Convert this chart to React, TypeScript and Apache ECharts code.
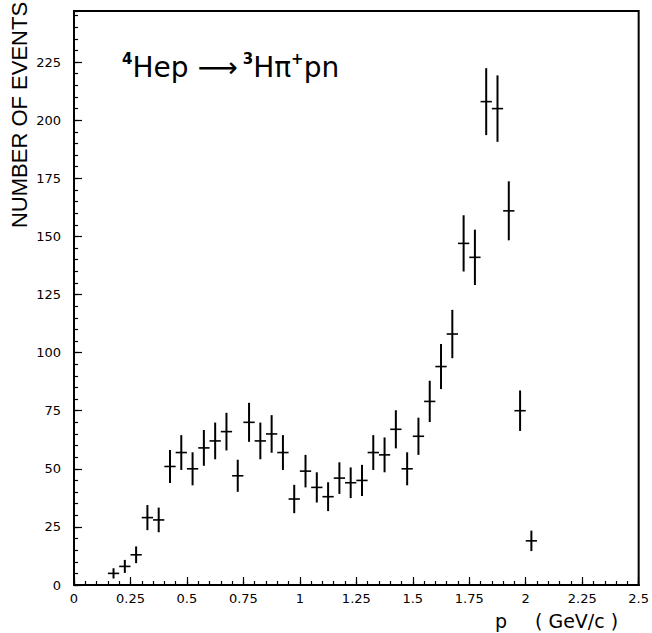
import React, { useEffect, useRef } from "react";
import * as echarts from "echarts";

// Bin centres (GeV/c)
const momenta = [
  0.175, 0.225, 0.275, 0.325, 0.375, 0.425, 0.475, 0.525, 0.575, 0.625,
  0.675, 0.725, 0.775, 0.825, 0.875, 0.925, 0.975, 1.025, 1.075, 1.125,
  1.175, 1.225, 1.275, 1.325, 1.375, 1.425, 1.475, 1.525, 1.575, 1.625,
  1.675, 1.725, 1.775, 1.825, 1.875, 1.925, 1.975, 2.025,
];
// Number of events per bin
const events = [
  5, 8, 13, 29, 28, 51, 57, 50, 59, 62,
  66, 47, 70, 62, 65, 57, 37, 49, 42, 38,
  46, 44, 45, 57, 56, 67, 50, 64, 79, 94,
  108, 147, 141, 208, 205, 161, 75, 19,
];
// Statistical errors (half-length of vertical bars)
const errors = [
  2.2, 2.8, 3.6, 5.4, 5.3, 7.1, 7.5, 7.1, 7.7, 7.9,
  8.1, 6.9, 8.4, 7.9, 8.1, 7.5, 6.1, 7.0, 6.5, 6.2,
  6.8, 6.6, 6.7, 7.5, 7.5, 8.2, 7.1, 8.0, 8.9, 9.7,
  10.4, 12.1, 11.9, 14.4, 14.3, 12.7, 8.7, 4.4,
];
const binHalfWidth = 0.025;

const X_MIN = 0;
const X_MAX = 2.5;
const Y_MIN = 0;
const Y_MAX = 247;

export default function App() {
  const ref = useRef<HTMLDivElement>(null);

  useEffect(() => {
    document.body.style.margin = "0";
    if (!ref.current) return;
    const chart = echarts.init(ref.current, null, { renderer: "svg" });

    const data = momenta.map((m, i) => [m, events[i], errors[i]]);
    const tickFont = { fontFamily: "DejaVu Sans", fontSize: 13, color: "#000" };

    const axisLine = { show: true, lineStyle: { color: "#000", width: 2 } };

    chart.setOption({
      animation: false,
      backgroundColor: "#fff",
      grid: {
        left: 74,
        top: 11,
        width: 565,
        height: 574,
        show: true,
        borderColor: "#000",
        borderWidth: 2,
        backgroundColor: "transparent",
      },
      xAxis: [
        {
          type: "value",
          min: X_MIN,
          max: X_MAX,
          interval: 0.05,
          position: "bottom",
          axisLine,
          axisTick: { show: true, inside: true, length: 4, lineStyle: { color: "#000", width: 1.2 } },
          axisLabel: { show: false },
          splitLine: { show: false },
        },
        {
          type: "value",
          min: X_MIN,
          max: X_MAX,
          interval: 0.25,
          position: "bottom",
          axisLine,
          axisTick: { show: true, inside: true, length: 8, lineStyle: { color: "#000", width: 1.2 } },
          axisLabel: { show: true, margin: 7, ...tickFont },
          splitLine: { show: false },
        },
      ],
      yAxis: [
        {
          type: "value",
          min: Y_MIN,
          max: Y_MAX,
          interval: 5,
          position: "left",
          axisLine,
          axisTick: { show: true, inside: true, length: 4, lineStyle: { color: "#000", width: 1.2 } },
          axisLabel: { show: false },
          splitLine: { show: false },
        },
        {
          type: "value",
          min: Y_MIN,
          max: Y_MAX,
          interval: 25,
          position: "left",
          axisLine,
          axisTick: { show: true, inside: true, length: 8, lineStyle: { color: "#000", width: 1.2 } },
          axisLabel: { show: true, margin: 13, showMaxLabel: false, ...tickFont },
          splitLine: { show: false },
        },
      ],
      graphic: [
        {
          type: "text",
          left: 122,
          top: 51,
          style: {
            text: "{s|4}{m|Hep }{a|⟶}{s| 3}{m|Hπ}{s|+}{m|pn}",
            fill: "#000",
            rich: {
              s: { fontFamily: "DejaVu Sans", fontSize: 15, fontWeight: "bold", verticalAlign: "top", lineHeight: 12 },
              m: { fontFamily: "DejaVu Sans", fontSize: 28, lineHeight: 32 },
              a: { fontFamily: "DejaVu Sans", fontSize: 28, lineHeight: 32 },
            },
          },
        },
        {
          type: "text",
          rotation: Math.PI / 2,
          x: 19,
          y: 115,
          style: {
            text: "NUMBER OF EVENTS",
            fill: "#000",
            fontFamily: "Liberation Sans",
            fontSize: 22,
            align: "center",
            verticalAlign: "middle",
          },
        },
        {
          type: "text",
          x: 495,
          y: 621,
          style: {
            text: "p",
            fill: "#000",
            fontFamily: "DejaVu Sans",
            fontSize: 19,
            verticalAlign: "middle",
          },
        },
        {
          type: "text",
          x: 535,
          y: 621,
          style: {
            text: "( GeV/c )",
            fill: "#000",
            fontFamily: "DejaVu Sans",
            fontSize: 19,
            verticalAlign: "middle",
          },
        },
      ],
      series: [
        {
          type: "custom",
          xAxisIndex: 0,
          yAxisIndex: 0,
          data,
          encode: { x: 0, y: 1 },
          renderItem: (params: any, api: any) => {
            const x = api.value(0);
            const y = api.value(1);
            const e = api.value(2);
            const top = api.coord([x, y + e]);
            const bot = api.coord([x, y - e]);
            const l = api.coord([x - binHalfWidth, y]);
            const r = api.coord([x + binHalfWidth, y]);
            return {
              type: "group",
              children: [
                {
                  type: "line",
                  shape: { x1: top[0], y1: top[1], x2: bot[0], y2: bot[1] },
                  style: { stroke: "#000", lineWidth: 2 },
                },
                {
                  type: "line",
                  shape: { x1: l[0], y1: l[1], x2: r[0], y2: r[1] },
                  style: { stroke: "#000", lineWidth: 1.6 },
                },
              ],
            };
          },
        },
      ],
    });

    return () => chart.dispose();
  }, []);

  return <div ref={ref} style={{ width: 652, height: 633 }} />;
}
